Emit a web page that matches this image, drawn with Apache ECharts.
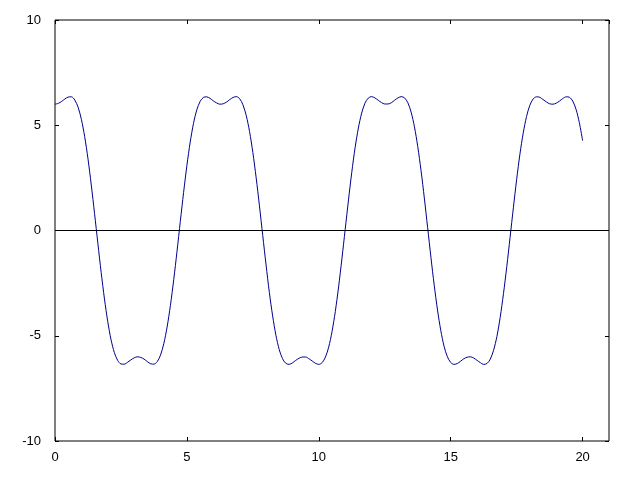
<!DOCTYPE html>
<html>
<head>
<meta charset="utf-8">
<script src="https://cdn.jsdelivr.net/npm/echarts@6/dist/echarts.min.js"></script>
<style>html,body{margin:0;padding:0;background:#fff}#c{width:640px;height:480px}</style>
</head>
<body>
<div id="c"></div>
<script>
var xValues = [0,0.125,0.25,0.375,0.5,0.625,0.75,0.875,1,1.125,1.25,1.375,1.5,1.625,1.75,1.875,
2,2.125,2.25,2.375,2.5,2.625,2.75,2.875,3,3.125,3.25,3.375,3.5,3.625,3.75,3.875,
4,4.125,4.25,4.375,4.5,4.625,4.75,4.875,5,5.125,5.25,5.375,5.5,5.625,5.75,5.875,
6,6.125,6.25,6.375,6.5,6.625,6.75,6.875,7,7.125,7.25,7.375,7.5,7.625,7.75,7.875,
8,8.125,8.25,8.375,8.5,8.625,8.75,8.875,9,9.125,9.25,9.375,9.5,9.625,9.75,9.875,
10,10.125,10.25,10.375,10.5,10.625,10.75,10.875,11,11.125,11.25,11.375,11.5,11.625,11.75,11.875,
12,12.125,12.25,12.375,12.5,12.625,12.75,12.875,13,13.125,13.25,13.375,13.5,13.625,13.75,13.875,
14,14.125,14.25,14.375,14.5,14.625,14.75,14.875,15,15.125,15.25,15.375,15.5,15.625,15.75,15.875,
16,16.125,16.25,16.375,16.5,16.625,16.75,16.875,17,17.125,17.25,17.375,17.5,17.625,17.75,17.875,
18,18.125,18.25,18.375,18.5,18.625,18.75,18.875,19,19.125,19.25,19.375,19.5,19.625,19.75,19.875,20];
var yValues = [6.00,6.04,6.13,6.25,6.34,6.35,6.20,5.86,5.28,4.46,3.41,2.16,0.80,-0.61,-1.99,-3.25,
-4.33,-5.19,-5.80,-6.17,-6.34,-6.35,-6.26,-6.15,-6.05,-6.00,-6.03,-6.11,-6.23,-6.33,-6.35,-6.23,
-5.92,-5.37,-4.58,-3.56,-2.34,-0.99,0.43,1.81,3.09,4.20,5.09,5.73,6.13,6.32,6.35,6.28,
6.16,6.06,6.00,6.02,6.10,6.22,6.32,6.36,6.26,5.97,5.46,4.70,3.71,2.51,1.17,-0.24,
-1.63,-2.94,-4.06,-4.98,-5.66,-6.09,-6.31,-6.36,-6.29,-6.17,-6.07,-6.01,-6.01,-6.09,-6.20,-6.31,
-6.36,-6.28,-6.02,-5.54,-4.81,-3.85,-2.68,-1.35,0.05,1.45,2.77,3.93,4.87,5.58,6.05,6.29,
6.36,6.30,6.19,6.08,6.01,6.01,6.07,6.19,6.30,6.36,6.30,6.07,5.62,4.93,3.99,2.85,
1.54,0.14,-1.27,-2.60,-3.78,-4.76,-5.51,-6.00,-6.27,-6.36,-6.32,-6.21,-6.09,-6.02,-6.00,-6.06,
-6.17,-6.28,-6.36,-6.32,-6.11,-5.69,-5.04,-4.13,-3.00,-1.72,-0.33,1.08,2.43,3.64,4.64,5.42,
5.95,6.25,6.35,6.33,6.22,6.11,6.02,6.00,6.05,6.15,6.27,6.35,6.33,6.15,5.76,5.13,4.27];
var xTicks = {min: 0, max: 21, step: 5};
var yTicks = {min: -10, max: 10, step: 5};

var pts = xValues.map(function (x, i) { return [x, yValues[i]]; });
var font = {color: '#000', fontSize: 13, fontFamily: 'Liberation Sans, Arial, sans-serif'};
var tick = {show: true, inside: true, length: 4, lineStyle: {color: '#000', width: 1}};
var chart = echarts.init(document.getElementById('c'), null, {renderer: 'canvas'});
chart.setOption({
  animation: false,
  backgroundColor: '#fff',
  grid: {left: 55, right: 31, top: 20, bottom: 39, show: true, borderColor: '#000', borderWidth: 1, containLabel: false},
  xAxis: [
    {type: 'value', position: 'bottom', min: xTicks.min, max: xTicks.max, interval: xTicks.step,
     axisLine: {show: false, onZero: false}, splitLine: {show: false},
     axisTick: tick,
     axisLabel: Object.assign({margin: 10, showMaxLabel: false}, font)},
    {type: 'value', position: 'top', min: xTicks.min, max: xTicks.max, interval: xTicks.step,
     axisLine: {show: false, onZero: false}, splitLine: {show: false},
     axisTick: tick,
     axisLabel: {show: false}}
  ],
  yAxis: [
    {type: 'value', position: 'left', min: yTicks.min, max: yTicks.max, interval: yTicks.step,
     axisLine: {show: false, onZero: false}, splitLine: {show: false},
     axisTick: tick,
     axisLabel: Object.assign({margin: 14}, font)},
    {type: 'value', position: 'right', min: yTicks.min, max: yTicks.max, interval: yTicks.step,
     axisLine: {show: false, onZero: false}, splitLine: {show: false},
     axisTick: tick,
     axisLabel: {show: false}}
  ],
  series: [{
    type: 'line',
    data: pts,
    smooth: 0.3,
    showSymbol: false,
    lineStyle: {color: '#00008b', width: 1},
    markLine: {
      silent: true, symbol: 'none', label: {show: false},
      lineStyle: {color: '#000', width: 1, type: 'solid'},
      data: [{yAxis: 0}]
    }
  }]
});
</script>
</body>
</html>
